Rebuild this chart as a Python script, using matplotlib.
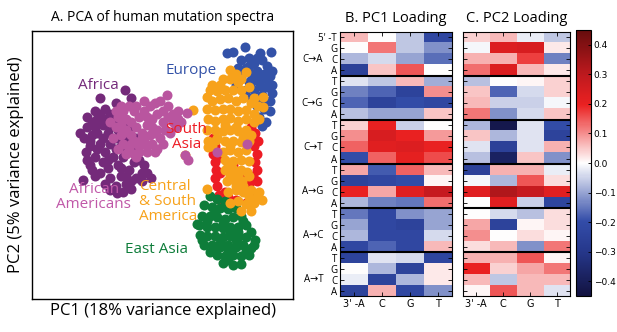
import numpy as np
import matplotlib
matplotlib.use("Agg")
import matplotlib.pyplot as plt
from matplotlib.colors import LinearSegmentedColormap

# ---------- Data ----------
# panel A: PCA scores (arbitrary 0-100 units)
africa = [(26,75),(35.5,78),(38,75),(32,73),(28,71),(24,70),(35,71),(30,69),
          (18.5,62),(20,60),(21,64),(22,57),(23,66),(20.5,55),
          (25,62),(27,65),(29,62),(31,66),(33,63),(26,58),(28,55),(30,58),(32,60),(34,57),
          (24,53),(27,51),(29,49),(31,53),(33,50),(35,53),(36,60),(37,64),(34,67),(25,67),
          (22,50),(26,47),(30,45),(34,46),(37,48),(39,51),(41,52),(42,47),(40,45),(36,43),
          (32,42),(28,43),(24,46),(32.5,39.5),(30,40.5),(19.5,44.3),(38,56),(40,60),
          (44,47),(45.5,45),(21,68),(23,48),
          (22,59),(24,64),(26,69),(28,67),(30,64),(32,56),(34,49),(36,46),(38,44),(29,52),
          (27,60),(25,56),(23,61),(21,52),(38,41),(35,40),(42,44),(43,50)]
african_am = [(33,68),(35,70),(37,72),(39,70),(41,68),(43,70),(45,72),(47,73),(49,74),(51.6,76),
              (42.7,74),(38,66),(36,63),(34,61),(32,64),(40,64),(42,62),(44,65),(46,67),(48,69),
              (50,70),(52,68),(54,69),(56,70),(59.2,69.5),(35,58),(37,56),(39,59),(41,57),(43,59),
              (45,61),(47,62),(49,60),(51,63),(53,62),(55,64),(36,54),(40,53),(44,55),(48,56),
              (50,58),(34,65),(31,60),(46,58),(38,61),(57,66),(58.6,53.7),(59.9,51.8),(70.7,54.9),
              (82.2,57.8),(30,66),(33,56),
              (32,70),(34,72),(40,72),(44,68),(46,64),(48,63),(42,60),(38,58),(36,67),(52,72),
              (54,66),(56,67),(50,66),(44,57),(47,55),(41,55),(39,54),(35,62)]
europe = [(74.5,91.6),(77,92.2),(81.5,94),(87.3,91.6),(91.7,92.2),(80,89),(83,90),(85,88),(88,89),
          (90,87),(82,86),(84,84),(86,85),(89,84),(91,83),(92,80),(80,83),(83,81),(87,81),(90,79),
          (92,77),(85,78),(88,76),(91,74),(86,72),(89,71),(91,70),(87,68),(89.5,66),(88,64.5),
          (84,75),(82,78),(79,86),(78,80),
          (83,87),(86,82),(88,79),(90,82),(84,81),(87,74),(89,73),(86,90),(92,85)]
south_asia = [(69.5,60),(70,57),(69.4,54),(70,51),(70.5,48),(70,45),(71,42),(71.5,39),(72,37),(73,36),
              (84,64),(85.5,62),(86.5,59),(85,57),(86,54),(85.5,51),(86,48),(84.5,46),(83,43),(84,38),
              (78,37),(75,38),(86,44),(72,53),(72,47),(74,40),(82,36),(80,45),(77,50)]
americas = [(75.8,85.3),(78,84),(82,84.7),(73,82),(76,82),(79,81),(72,80),
            (68,78),(71,77.5),(74,78),(77,78),(80,78),(83,79),
            (66.9,75.4),(69,74),(72,74.5),(75,75),(78,74),(81,75),(84,73),(88.5,75.4),(86.5,72),
            (67,71),(70,70.5),(73,71),(76,71),(79,70),(82,70.5),(85,69),(88.5,71.7),
            (67.5,67),(70,66.5),(73,67),(76,67.5),(79,66.5),(82,67),(85,66),
            (67,63),(70,63),(73,62.5),(76,63),(79,62.5),(82,63),(84,61),
            (67.5,59),(70.5,59.5),(74,59),(77,59),(80,58.5),(83,59),
            (67.5,56.8),(73,55),(76,55.5),(79,55),(82,55.5),
            (74,52),(77,51.5),(80,52),(83,51.5),
            (74,48),(77,48.5),(80,48),(82.5,47.5),
            (74.5,44),(77.5,44.5),(80.5,44),
            (75,40),(78,40.5),(81,40),(84,40.5),(87,40),
            (76,36),(79,36.5),(82,35.5),(85,36),(88,37),
            (80,33),(84,33),
            (61.8,70.4),(58.6,53.7),(66.9,41.2),(69,57),
            (69,80),(80,82),(85,75),(87,67),(71,60),(74,65),(78,64),(81,60),(76,57),(79,46),
            (81,42),(78,42),(76,46),(83,46),(75,50),(86,38),(83,38)]
east_asia = [(68,38.5),(71,37.5),(74,36.5),(66,35),(69,34.5),(72,34),(75,33.5),(78,34),
             (65,31),(68,31),(71,30.5),(74,30),(77,30.5),(80,31),
             (64,27.5),(67,27),(70,27),(73,26.5),(76,27),(79,27),(82,27.5),
             (64.3,24),(67,23.5),(70,23.5),(73,23),(76,23.5),(79,23),(82,23),(85.4,22),(84,25),
             (66,20),(69,20),(72,19.5),(75,20),(78,19.5),(81,20),(84,19),
             (68,17.6),(71,16.5),(74,16),(77,16.5),(80,16),(83,16.5),
             (73,13.5),(77,12.7),(80,13),(63,28),
             (70,32),(73,28),(76,25),(79,25),(81,29),(72,21),(75,18),(78,22),(70,18),(67,29),
             (65,22),(75,14.5),(82,18),(85,20)]

# panels B/C: loadings, rows = 5' base (T,G,C,A) per mutation, cols = 3' base
mutations = ["C\u2192A", "C\u2192G", "C\u2192T", "A\u2192G", "A\u2192C", "A\u2192T"]
five_prime = ["T", "G", "C", "A"]
three_prime = ["3' -A", "C", "G", "T"]

pc1_loading = [
    [0.06, 0.0, -0.06, -0.22], [0.0, 0.12, -0.06, -0.12], [-0.08, -0.04, -0.1, -0.16], [-0.25, 0.05, 0.15, 0.0],
    [-0.03, -0.06, 0.06, -0.09], [-0.14, -0.17, -0.24, 0.1], [-0.17, -0.24, -0.2, -0.22], [-0.07, -0.1, -0.1, 0.05],
    [0.04, 0.2, -0.05, 0.0], [0.1, 0.24, 0.2, 0.09], [0.14, 0.22, 0.23, 0.2], [-0.2, 0.14, 0.21, 0.16],
    [0.08, -0.18, 0.14, 0.06], [-0.24, -0.22, -0.2, 0.01], [0.2, 0.08, 0.22, 0.28], [-0.08, -0.14, -0.15, 0.13],
    [-0.15, -0.22, -0.12, -0.1], [-0.1, -0.22, -0.24, -0.1], [-0.08, -0.22, -0.22, -0.04], [-0.22, -0.17, -0.22, 0.06],
    [-0.24, -0.03, -0.04, -0.23], [0.0, -0.08, -0.24, 0.02], [-0.02, -0.24, -0.08, 0.02], [-0.24, 0.07, -0.22, -0.12],
]
pc2_loading = [
    [0.04, 0.06, -0.02, -0.06], [-0.01, 0.23, 0.24, 0.02], [0.07, 0.07, 0.17, -0.14], [0.13, 0.23, 0.06, 0.02],
    [-0.07, 0.0, 0.01, 0.04], [0.05, -0.17, -0.04, 0.04], [0.06, -0.05, -0.05, -0.01], [0.12, -0.12, -0.04, 0.05],
    [-0.08, -0.42, -0.03, -0.2], [0.05, -0.08, -0.03, -0.24], [-0.03, -0.25, -0.03, 0.07], [-0.07, -0.38, 0.05, -0.12],
    [-0.25, 0.07, 0.07, -0.02], [-0.01, -0.08, 0.15, 0.03], [0.22, 0.32, 0.28, 0.22], [0.0, 0.22, -0.05, -0.23],
    [0.0, -0.04, -0.07, 0.03], [0.08, -0.24, 0.01, 0.03], [0.1, 0.0, 0.03, 0.01], [0.03, 0.06, -0.12, 0.12],
    [0.07, 0.07, 0.15, 0.01], [0.2, 0.04, 0.08, 0.12], [0.06, -0.06, 0.06, 0.06], [0.01, 0.15, 0.06, -0.03],
]

# ---------- Style ----------
LBL = ["Open Sans", "DejaVu Sans"]
cmap = LinearSegmentedColormap.from_list("loading", [
    (0.0, (0.07, 0.07, 0.25)),
    (0.17, (0.15, 0.22, 0.55)),
    (0.28, (0.2, 0.3, 0.66)),
    (0.5, (1.0, 1.0, 1.0)),
    (0.72, (0.92, 0.13, 0.13)),
    (0.83, (0.75, 0.1, 0.12)),
    (1.0, (0.4, 0.05, 0.05)),
])
VMIN, VMAX = -0.45, 0.45

fig = plt.figure(figsize=(6.17, 3.32), dpi=100)

# ---------- Panel A ----------
axA = fig.add_axes([0.052, 0.099, 0.423, 0.808])
groups = [
    (africa, "#742a7a"),
    (europe, "#3352a8"),
    (south_asia, "#ed1c24"),
    (east_asia, "#0e7d3a"),
    (americas, "#f7a21b"),
    (african_am, "#b9559f"),
]
for pts, col in groups:
    arr = np.array(pts)
    axA.scatter(arr[:, 0], arr[:, 1], s=52, color=col, linewidths=0)

labels = [
    ("Europe", 61.1, 85.3, "#3352a8", "center"),
    ("Africa", 25.5, 79.8, "#742a7a", "center"),
    ("South\nAsia", 59.2, 60.5, "#ed1c24", "center"),
    ("African\nAmericans", 23.6, 38.1, "#c058a8", "center"),
    ("Central\n& South\nAmerica", 41.0, 36.3, "#f7a21b", "left"),
    ("East Asia", 47.5, 18.5, "#0e7d3a", "center"),
]
for txt, x, y, col, ha in labels:
    axA.text(x, y, txt, color=col, ha=ha, va="center", fontsize=11,
             family=LBL, linespacing=1.0)

axA.set_xlim(0, 100)
axA.set_ylim(0, 100)
axA.set_xticks([])
axA.set_yticks([])
for sp in axA.spines.values():
    sp.set_linewidth(1.0)
axA.set_title("A. PCA of human mutation spectra", fontsize=10, family=LBL, pad=7)
axA.set_xlabel("PC1 (18% variance explained)", fontsize=12, family=LBL, labelpad=3)
axA.set_ylabel("PC2 (5% variance explained)", fontsize=12, family=LBL, labelpad=6)

# ---------- Panels B/C ----------
def draw_loading(ax, data, title, row_labels):
    im = ax.imshow(np.array(data), cmap=cmap, vmin=VMIN, vmax=VMAX,
                   aspect="auto", interpolation="nearest")
    for k in range(1, len(mutations)):
        ax.axhline(k * 4 - 0.5, color="black", linewidth=1.5)
    ax.set_xticks(range(4))
    ax.set_xticklabels(three_prime, fontsize=7)
    ax.set_yticks(range(24))
    ax.tick_params(direction="in", top=True, right=True, length=3, width=0.6, pad=2)
    if row_labels:
        ylabs = []
        for m in mutations:
            ylabs += five_prime
        ylabs[0] = "5' -T"
        ax.set_yticklabels(ylabs, fontsize=7, family=LBL)
        for i, m in enumerate(mutations):
            ax.text(-0.15, i * 4 + 2, m, transform=ax.get_yaxis_transform(),
                    ha="right", va="center", fontsize=7, family=LBL)
    else:
        ax.set_yticklabels([])
    for sp in ax.spines.values():
        sp.set_linewidth(0.8)
    ax.set_title(title, fontsize=10.5, family=LBL, pad=7)
    return im

axB = fig.add_axes([0.551, 0.108, 0.1815, 0.796])
draw_loading(axB, pc1_loading, "B. PC1 Loading", True)

axC = fig.add_axes([0.750, 0.108, 0.1739, 0.796])
im = draw_loading(axC, pc2_loading, "C. PC2 Loading", False)

cax = fig.add_axes([0.9335, 0.108, 0.0243, 0.802])
cb = fig.colorbar(im, cax=cax)
cb.set_ticks([-0.4, -0.3, -0.2, -0.1, 0.0, 0.1, 0.2, 0.3, 0.4])
cb.ax.tick_params(labelsize=6.5, direction="in", length=2, width=0.6, pad=2)
cb.outline.set_linewidth(0.8)

fig.savefig("out.png", dpi=100)
